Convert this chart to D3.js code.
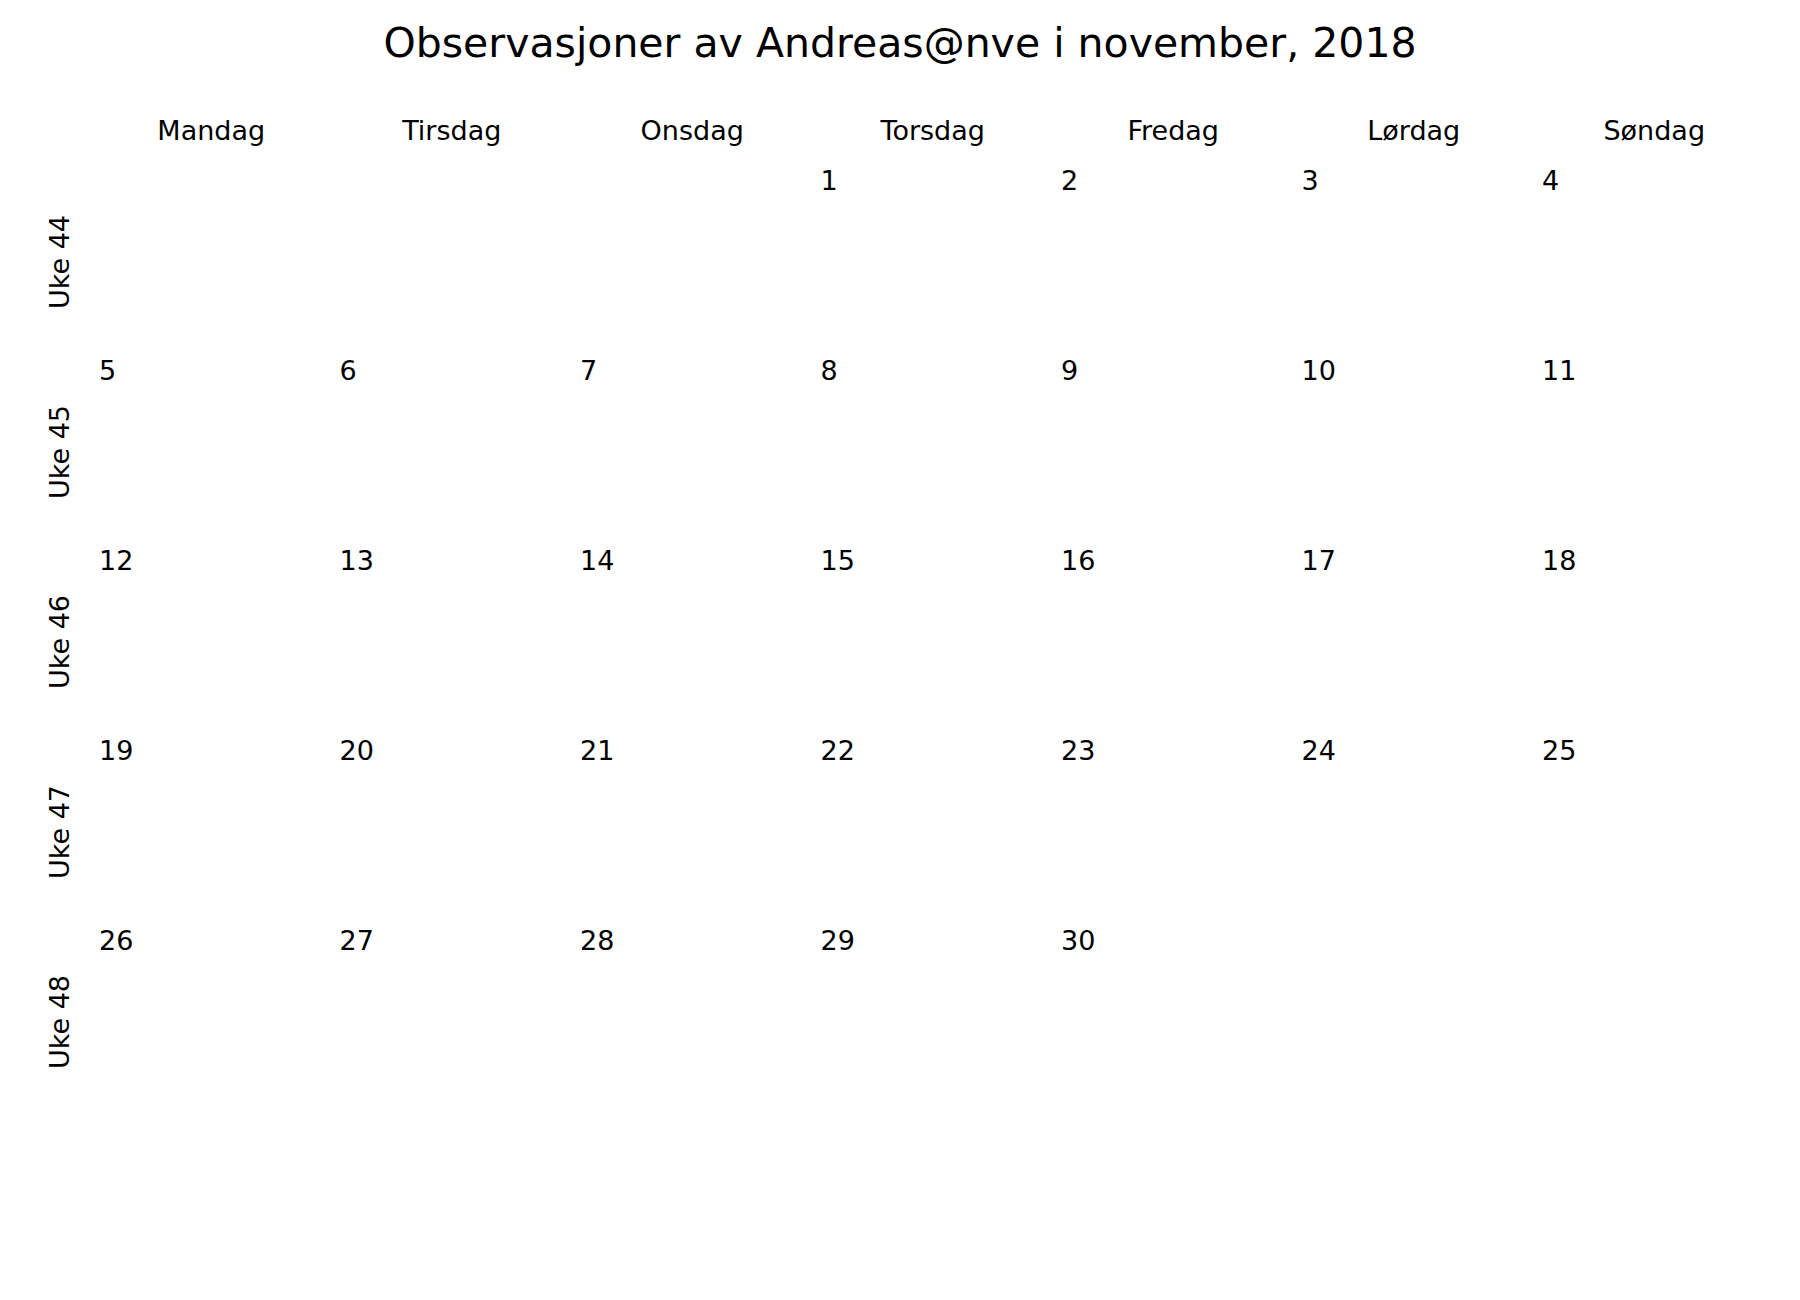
<!DOCTYPE html>
<html>
<head>
<meta charset="utf-8">
<script src="https://cdn.jsdelivr.net/npm/d3@7"></script>
<style>
  body { margin: 0; background: #fff; }
  text { font-family: "DejaVu Sans", sans-serif; fill: #000; }
</style>
</head>
<body>
<div id="chart"></div>
<script>
const title = 'Observasjoner av Andreas@nve i november, 2018';
const weekdays = ['Mandag', 'Tirsdag', 'Onsdag', 'Torsdag', 'Fredag', 'Lørdag', 'Søndag'];
const weeks = ['Uke 44', 'Uke 45', 'Uke 46', 'Uke 47', 'Uke 48'];
const firstWeekday = 3; // 1. november 2018 is a Thursday
const daysInMonth = 30;

const width = 1800;
const height = 1300;

const svg = d3.select('#chart')
  .append('svg')
  .attr('width', width)
  .attr('height', height);

// Cell grid
const x = d3.scaleBand().domain(weekdays).range([92, 92 + 240.5 * 7]);
const y = d3.scaleBand().domain(weeks).range([167, 167 + 190 * 5]);

svg.append('text')
  .text(title)
  .attr('x', width / 2)
  .attr('y', 43)
  .attr('dy', '0.35em')
  .attr('text-anchor', 'middle')
  .style('font-size', '41px');

svg.selectAll('.weekday')
  .data(weekdays)
  .enter().append('text')
  .attr('class', 'weekday')
  .text(d => d)
  .attr('x', d => x(d) + x.bandwidth() / 2 - 1)
  .attr('y', 131)
  .attr('dy', '0.35em')
  .attr('text-anchor', 'middle')
  .style('font-size', '27px');

svg.selectAll('.week')
  .data(weeks)
  .enter().append('text')
  .attr('class', 'week')
  .text(d => d)
  .attr('transform', d => `translate(60, ${y(d) + y.bandwidth() / 2}) rotate(-90)`)
  .attr('dy', '0.35em')
  .attr('text-anchor', 'middle')
  .style('font-size', '27px');

const days = d3.range(1, daysInMonth + 1).map(d => {
  const i = firstWeekday + d - 1;
  return { day: d, col: weekdays[i % 7], row: weeks[Math.floor(i / 7)] };
});

svg.selectAll('.day')
  .data(days)
  .enter().append('text')
  .attr('class', 'day')
  .text(d => d.day)
  .attr('x', d => x(d.col) + 7)
  .attr('y', d => y(d.row) + 14)
  .attr('dy', '0.35em')
  .style('font-size', '27px');
</script>
</body>
</html>
